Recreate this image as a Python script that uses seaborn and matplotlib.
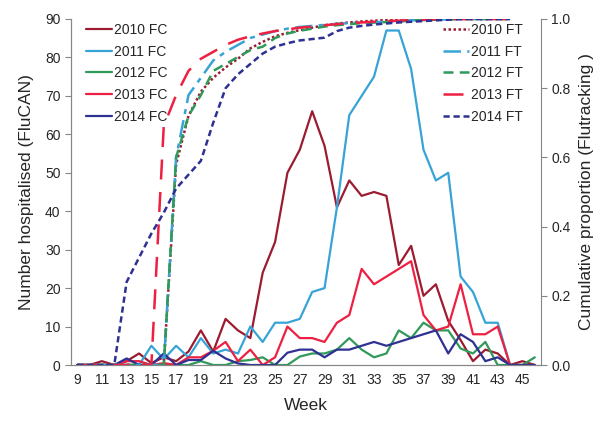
import matplotlib
matplotlib.use('Agg')
import matplotlib.pyplot as plt
import seaborn as sns
import numpy as np
from matplotlib.ticker import FixedLocator, FormatStrFormatter

# weekly FluCAN hospitalisations (weeks 9-46)
weeks = list(range(9, 47))
fc_2010 = [0, 0, 1, 0, 1, 3, 0.5, 2, 1, 3.5, 9, 3.5, 12, 9, 7, 24, 32, 50, 56, 66, 57, 41, 48, 44, 45, 44,
           26, 31, 18, 21, 11.5, 6.5, 1, 4, 3, 0, 1, 0]
fc_2011 = [0, 0, 0, 0, 0, 0, 5, 1.5, 5, 2, 7, 3, 4, 3, 10, 6, 11, 11, 12, 19, 20, 41, 65, 70, 75, 87,
           87, 77, 56, 48, 50, 23, 19, 11, 11, 0, 0, 0]
fc_2012 = [0, 0, 0, 0, 0, 0, 0, 0, 0, 0, 1, 0, 0, 1, 1.3, 2, 0, 0, 2.2, 3, 3, 4, 7, 4, 2, 3,
           9, 7, 11, 9, 9, 4.3, 3, 6, 0, 0, 0, 2]
fc_2013 = [0, 0, 0, 0, 1, 1, 0, 0.5, 0, 2, 2, 3.7, 6, 1, 4, 0, 2, 10, 7, 7, 6, 11, 13, 25, 21, 23,
           25, 27, 13, 9, 10, 21, 8, 8, 10, 0, 0, 0]
fc_2014 = [0, 0, 0, 0, 1.7, 0, 0, 3, 0, 1.3, 1.3, 3.7, 1.7, 0.4, 0, 0, 0, 3.2, 4, 4, 2, 4, 4, 5, 6, 5,
           6, 7, 8, 9, 3, 8, 6, 1, 2, 0, 0, 0]

# cumulative Flutracking proportion (weeks 9-44)
ft_weeks = list(range(9, 45))
ft_2010 = [0]*8 + [0.58, 0.72, 0.79, 0.83, 0.86, 0.885, 0.915, 0.934, 0.95, 0.96, 0.968, 0.975, 0.982,
                   0.987, 0.99, 0.993, 0.995, 0.997, 0.998, 0.999] + [1.0]*8
ft_2011 = [0]*8 + [0.6, 0.78, 0.83, 0.88, 0.905, 0.925, 0.945, 0.955, 0.965, 0.972, 0.977, 0.98, 0.983,
                   0.986, 0.988, 0.99, 0.991, 0.992, 0.994, 0.996, 0.997, 0.998, 0.999] + [1.0]*5
ft_2012 = [0]*8 + [0.6, 0.72, 0.78, 0.85, 0.87, 0.89, 0.91, 0.92, 0.945, 0.958, 0.966, 0.972, 0.978,
                   0.982, 0.985, 0.988, 0.99, 0.991, 0.993, 0.995, 0.997, 0.998, 0.999] + [1.0]*5
ft_2013 = [0]*7 + [0.69, 0.78, 0.85, 0.885, 0.905, 0.925, 0.94, 0.95, 0.958, 0.965, 0.97, 0.975, 0.978,
                   0.982, 0.985, 0.988, 0.99, 0.992, 0.994, 0.995, 0.997, 0.998, 0.999] + [1.0]*6
ft_2014 = [0]*4 + [0.24, 0.31, 0.38, 0.44, 0.51, 0.55, 0.59, 0.70, 0.80, 0.84, 0.87, 0.90, 0.92, 0.93,
                   0.938, 0.942, 0.946, 0.965, 0.975, 0.98, 0.984, 0.987, 0.99, 0.992, 0.994, 0.996,
                   0.998] + [1.0]*5

years = ['2010', '2011', '2012', '2013', '2014']
colors = ['#9B1C31', '#37A3D7', '#2F9A5A', '#EE2042', '#2E3192']
fc_data = [fc_2010, fc_2011, fc_2012, fc_2013, fc_2014]
ft_data = [ft_2010, ft_2011, ft_2012, ft_2013, ft_2014]
ft_styles = [(0, (1, 1)), (0, (7, 2.5, 2, 2.5)), (0, (4, 2.5)), (0, (8, 5)), (0, (2.5, 1.5))]

sns.set_style('white')
plt.rcParams['font.family'] = ['Liberation Sans', 'DejaVu Sans']
grey = '#868686'

fig = plt.figure(figsize=(5.97, 4.21), dpi=100)
ax = fig.add_axes([0.1189, 0.133, 0.7873, 0.8219])
ax2 = ax.twinx()

for yr, c, vals in zip(years, colors, fc_data):
    sns.lineplot(x=weeks, y=vals, ax=ax, color=c, linewidth=1.6, label=f'{yr} FC')

for yr, c, vals, ls in zip(years, colors, ft_data, ft_styles):
    sns.lineplot(x=ft_weeks, y=vals, ax=ax2, color=c, linewidth=1.8, linestyle=ls, label=f'{yr} FT')

ax.set_xlim(8.5, 46.5)
ax.set_ylim(0, 90)
ax2.set_ylim(0, 1.0)

ax.set_yticks(np.arange(0, 91, 10))
ax2.set_yticks(np.arange(0, 1.01, 0.2))
ax2.yaxis.set_major_formatter(FormatStrFormatter('%.1f'))

ax.set_xticks(list(range(9, 46, 2)))
ax.xaxis.set_minor_locator(FixedLocator(np.arange(8.5, 47, 1)))
ax.tick_params(axis='x', which='major', length=0, labelsize=10, pad=6)
ax.tick_params(axis='x', which='minor', length=4, color=grey, direction='out')
ax.tick_params(axis='y', length=4, color=grey, direction='out', labelsize=10, left=True)
ax2.tick_params(axis='y', length=4, color=grey, direction='out', labelsize=10, right=True)

for a in (ax, ax2):
    a.spines['top'].set_visible(False)
    for s in ('left', 'right', 'bottom'):
        a.spines[s].set_color(grey)
ax.spines['right'].set_visible(False)

ax.set_xlabel('Week', fontsize=12.5, labelpad=8)
ax.set_ylabel('Number hospitalised (FluCAN)', fontsize=12.5, labelpad=8)
ax2.set_ylabel('Cumulative proportion (Flutracking )', fontsize=12.5, labelpad=6)

h1, l1 = ax.get_legend_handles_labels()
h2, l2 = ax2.get_legend_handles_labels()
for a in (ax, ax2):
    if a.get_legend() is not None:
        a.get_legend().remove()

ax.legend(h1, l1, loc='upper left', bbox_to_anchor=(86 / 597, 1 - 23 / 421), bbox_transform=fig.transFigure,
          frameon=False, fontsize=10, handlelength=1.9, handletextpad=0.1, labelspacing=0.55,
          borderpad=0, borderaxespad=0)
ax2.legend(h2, l2, loc='upper left', bbox_to_anchor=(443 / 597, 1 - 23 / 421), bbox_transform=fig.transFigure,
           frameon=False, fontsize=10, handlelength=1.9, handletextpad=0.1, labelspacing=0.55,
           borderpad=0, borderaxespad=0)

fig.savefig('out.png', dpi=100)
